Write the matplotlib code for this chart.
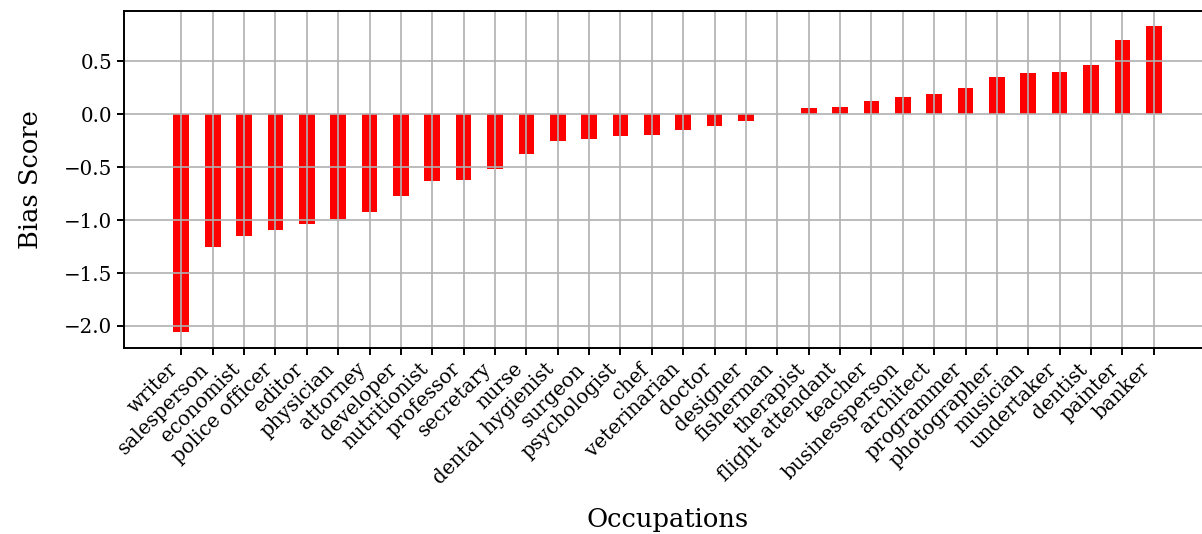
import matplotlib
matplotlib.use('Agg')

import matplotlib.pyplot as plt

# bias score per occupation, sorted ascending
occupations = ['writer', 'salesperson', 'economist', 'police officer', 'editor',
               'physician', 'attorney', 'developer', 'nutritionist', 'professor',
               'secretary', 'nurse', 'dental hygienist', 'surgeon', 'psychologist',
               'chef', 'veterinarian', 'doctor', 'designer', 'fisherman',
               'therapist', 'flight attendant', 'teacher', 'businessperson',
               'architect', 'programmer', 'photographer', 'musician', 'undertaker',
               'dentist', 'painter', 'banker']
scores = [-2.06, -1.25, -1.15, -1.09, -1.04,
          -0.99, -0.92, -0.77, -0.63, -0.62,
          -0.52, -0.38, -0.25, -0.23, -0.21,
          -0.20, -0.15, -0.11, -0.06, 0.0,
          0.06, 0.07, 0.12, 0.16,
          0.19, 0.25, 0.35, 0.39, 0.40,
          0.46, 0.70, 0.83]

plt.rcParams['font.family'] = 'DejaVu Serif'

fig = plt.figure(figsize=(12.02, 5.34), dpi=100)
ax = fig.add_axes([0.1032, 0.349, 0.9043, 0.6305])

ax.bar(range(len(occupations)), scores, width=0.5, color='red')
ax.grid(True, linewidth=1.2)

for spine in ax.spines.values():
    spine.set_linewidth(1.4)

ax.set_xticks(range(len(occupations)))
ax.set_xticklabels(occupations, rotation=45, ha='right', fontsize=14.3)
ax.tick_params(axis='y', labelsize=14.3)
ax.tick_params(width=1.4, length=5)

ax.set_ylabel('Bias Score', fontsize=18.5)
ax.set_xlabel('Occupations', fontsize=18.5)
ax.yaxis.set_label_coords(-0.0745, 0.5)
ax.xaxis.set_label_coords(0.5, -0.473)

fig.savefig('out.png', dpi=100)
